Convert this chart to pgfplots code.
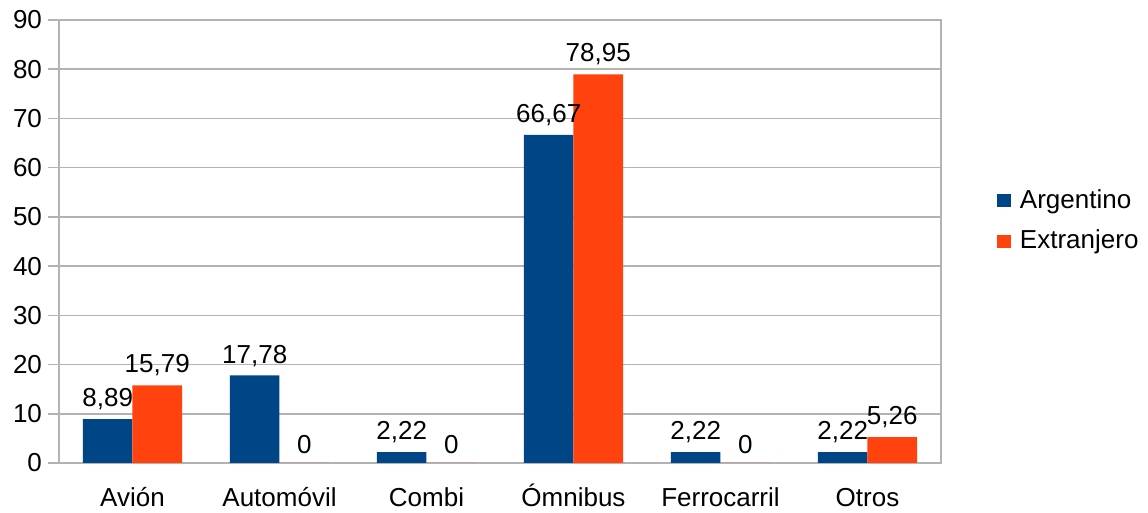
\documentclass[border=0pt]{standalone}
\usepackage{pgfplots}
\pgfplotsset{compat=1.18}
\usepackage{fontspec}
\setmainfont{Liberation Sans}
\definecolor{arg}{HTML}{004586}
\definecolor{ext}{HTML}{FF420E}
\definecolor{grd}{HTML}{B3B3B3}
\begin{document}
\fontsize{13pt}{15.6pt}\selectfont
\begin{tikzpicture}
\path[use as bounding box] (-29.5pt,-25pt) rectangle (544.5pt,231.5pt);
\begin{axis}[
  at={(0,0)}, anchor=south west,
  width=441pt, height=221.5pt,
  scale only axis,
  ybar=0pt, bar width=0.337,
  xmin=-0.5, xmax=5.5,
  ymin=0, ymax=90,
  ytick={0,10,...,90},
  xtick={0,...,5},
  xticklabels={Avión,Automóvil,Combi,Ómnibus,Ferrocarril,Otros},
  x tick style={draw=none},
  extra x ticks={-0.5,0.5,...,5.5},
  extra x tick labels={},
  extra x tick style={tick style={draw=grd, line width=0.8pt}, major tick length=6pt, tick align=outside, grid=none},
  y tick style={grd, line width=0.8pt},
  major tick length=5.5pt,
  tick align=outside,
  tick pos=left,
  ymajorgrids,
  grid style={grd, line width=0.8pt},
  axis line style={grd, line width=0.8pt},
  tick label style={font=\fontsize{13pt}{15.6pt}\selectfont, text=black},
  yticklabel style={xshift=1.5pt},
  xticklabel style={text height=9.3pt, yshift=-2.3pt},
  /pgf/number format/assume math mode=true,
  nodes near coords,
  every node near coord/.append style={font=\fontsize{13pt}{15.6pt}\selectfont, text=black,
    /pgf/number format/.cd, use comma, fixed, precision=2, assume math mode=true},
  legend style={at={(1.0635,0.546)}, anchor=west, draw=none, fill=none,
    font=\fontsize{13pt}{15.6pt}\selectfont, row sep=5pt, inner sep=0pt},
  legend image code/.code={\fill[#1] (0pt,-3.3pt) rectangle (6.6pt,3.3pt); \path (9.3pt,0pt);},
  legend cell align=left,
]
\addplot[fill=arg, draw=none] coordinates {(0,8.89) (1,17.78) (2,2.22) (3,66.67) (4,2.22) (5,2.22)};
\addplot[fill=ext, draw=none] coordinates {(0,15.79) (1,0) (2,0) (3,78.95) (4,0) (5,5.26)};
\legend{Argentino, Extranjero}
\end{axis}
\end{tikzpicture}
\end{document}
